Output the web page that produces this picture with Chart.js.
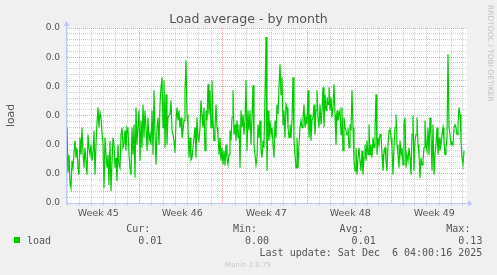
<!DOCTYPE html>
<html>
<head>
<meta charset="utf-8">
<title>Load average - by month</title>
<script src="https://cdn.jsdelivr.net/npm/chart.js@4.4.1/dist/chart.umd.min.js"></script>
<style>
  html, body { margin: 0; padding: 0; background: #f0f0f0; }
  canvas { display: block; }
</style>
</head>
<body>
<canvas id="loadChart" width="497" height="275"></canvas>
<script>
// load average, one sample every 2 hours, oldest first
var loadValues = [
  0.0150,0.0060,0.0096,0.0040,0.0030,0.0084,0.0070,0.0100,0.0124,0.0090,
  0.0110,0.0070,0.0056,0.0130,0.0096,0.0150,0.0100,0.0070,0.0110,0.0084,
  0.0056,0.0136,0.0110,0.0096,0.0116,0.0084,0.0100,0.0144,0.0056,0.0116,
  0.0160,0.0190,0.0150,0.0180,0.0170,0.0140,0.0116,0.0030,0.0130,0.0096,
  0.0070,0.0096,0.0036,0.0124,0.0024,0.0080,0.0130,0.0116,0.0070,0.0090,
  0.0044,0.0116,0.0076,0.0070,0.0136,0.0150,0.0110,0.0116,0.0144,0.0104,
  0.0150,0.0144,0.0096,
  0.0070,0.0056,0.0150,0.0096,0.0156,0.0050,0.0190,0.0116,0.0150,0.0184,
  0.0084,0.0164,0.0110,0.0196,0.0130,0.0184,0.0150,0.0104,0.0170,0.0124,
  0.0136,0.0116,0.0184,0.0096,0.0224,0.0136,0.0076,0.0150,0.0170,0.0116,
  0.0196,0.0230,0.0250,0.0150,0.0244,0.0110,0.0216,0.0116,0.0170,0.0174,
  0.0176,0.0204,0.0144,0.0136,0.0124,0.0100,0.0164,0.0190,0.0164,0.0184,
  0.0150,0.0170,0.0130,0.0144,0.0164,0.0224,0.0284,0.0176,0.0150,0.0090,
  0.0130,0.0086,0.0090,0.0110,0.0130,0.0150,
  0.0090,0.0170,0.0130,0.0124,0.0150,0.0204,0.0176,0.0150,0.0190,0.0104,
  0.0184,0.0164,0.0236,0.0176,0.0224,0.0150,0.0244,0.0164,0.0124,0.0150,
  0.0196,0.0150,0.0136,0.0096,0.0130,0.0084,0.0110,0.0076,0.0104,0.0074,
  0.0116,0.0090,0.0076,0.0096,0.0144,0.0124,0.0170,0.0224,0.0136,0.0156,
  0.0124,0.0164,0.0130,0.0156,0.0070,0.0184,0.0150,0.0176,0.0136,0.0164,
  0.0244,0.0104,0.0184,0.0144,0.0184,0.0116,0.0170,0.0234,0.0116,0.0096,
  0.0076,0.0090,0.0156,0.0130,0.0164,
  0.0104,0.0090,0.0124,0.0110,0.0216,0.0330,0.0064,0.0184,0.0124,0.0164,
  0.0136,0.0150,0.0116,0.0090,0.0164,0.0130,0.0196,0.0176,0.0230,0.0276,
  0.0216,0.0250,0.0156,0.0184,0.0130,0.0196,0.0190,0.0150,0.0130,0.0156,
  0.0130,0.0164,0.0250,0.0124,0.0096,0.0070,0.0130,0.0070,0.0116,0.0150,
  0.0164,0.0150,0.0170,0.0196,0.0150,0.0170,0.0156,0.0224,0.0130,0.0176,
  0.0124,0.0164,0.0170,0.0196,0.0136,0.0184,0.0224,0.0170,0.0150,0.0196,
  0.0156,0.0184,0.0230,0.0150,0.0216,0.0184,
  0.0210,0.0196,0.0230,0.0184,0.0210,0.0170,0.0190,0.0236,0.0176,0.0116,
  0.0184,0.0164,0.0176,0.0184,0.0136,0.0190,0.0104,0.0170,0.0150,0.0144,
  0.0136,0.0150,0.0110,0.0156,0.0144,0.0224,0.0150,0.0084,0.0064,0.0110,
  0.0056,0.0090,0.0110,0.0084,0.0064,0.0104,0.0056,0.0090,0.0116,0.0084,
  0.0124,0.0096,0.0156,0.0096,0.0116,0.0090,0.0130,0.0110,0.0150,0.0216,
  0.0096,0.0130,0.0116,0.0136,0.0136,0.0096,0.0064,0.0104,0.0110,0.0084,
  0.0064,0.0116,0.0144,0.0150,0.0130,0.0110,
  0.0056,0.0110,0.0150,0.0176,0.0116,0.0096,0.0070,0.0124,0.0096,0.0110,
  0.0076,0.0156,0.0170,0.0070,0.0096,0.0084,0.0110,0.0090,0.0056,0.0136,
  0.0174,0.0064,0.0124,0.0136,0.0170,0.0116,0.0096,0.0050,0.0090,0.0076,
  0.0084,0.0110,0.0164,0.0116,0.0104,0.0150,0.0096,0.0170,0.0136,0.0064,
  0.0156,0.0056,0.0096,0.0116,0.0150,0.0096,0.0130,0.0104,0.0116,0.0136,
  0.0150,0.0124,0.0096,0.0110,0.0130,0.0296,0.0150,0.0136,0.0116,0.0120,
  0.0116,0.0150,0.0156,0.0150,0.0136,0.0156,0.0190,0.0176,0.0124,0.0090,
  0.0076,0.0104
];
var sampleDays = 2 / 24;      // 2 hour steps
var rangeDays = 400 / 12;     // shown period, in days

var weekLabels = ['Week 45', 'Week 46', 'Week 47', 'Week 48', 'Week 49'];
var weekLabelDays = [2.6, 9.6, 16.6, 23.6, 30.6];
var weekStartDays = [6, 13, 20, 27];

var yMinorStep = 0.00116;
var yMajorEvery = 5;
var yMinorCount = 30;

var seriesName = 'load';
var legendHeaders = ['Cur:', 'Min:', 'Avg:', 'Max:'];
var legendValues = ['0.01', '0.00', '0.01', '0.13'];
var lastUpdate = 'Last update: Sat Dec  6 04:00:16 2025';

var GREEN = '#00cc00';
var MAJOR_GRID = 'rgba(245, 128, 128, 0.75)';
var MINOR_GRID = 'rgba(191, 191, 191, 0.75)';
var AXIS = '#c0c8f6';

var dayTicks = [];
for (var d = 0; d <= Math.floor(rangeDays); d++) {
    if (weekStartDays.indexOf(d) < 0) dayTicks.push(d);
}

var points = loadValues.map(function(v, i) {
    return { x: i * sampleDays, y: v };
});

/*
 * grey page with white plot area
 */
var backdrop = {
    id: 'backdrop',
    beforeDraw: function(chart) {
        var ctx = chart.ctx, a = chart.chartArea;
        ctx.save();
        ctx.fillStyle = '#f0f0f0';
        ctx.fillRect(0, 0, chart.width, chart.height);
        ctx.fillStyle = '#ffffff';
        ctx.fillRect(a.left, a.top, a.right - a.left, a.bottom - a.top);
        ctx.restore();
    }
};

/*
 * rrdtool style axes with arrows, legend table and footer
 */
var muninExtras = {
    id: 'muninExtras',
    afterDraw: function(chart) {
        var ctx = chart.ctx, a = chart.chartArea;
        ctx.save();

        // axes
        ctx.lineWidth = 1;
        ctx.strokeStyle = AXIS;
        ctx.fillStyle = AXIS;
        ctx.beginPath();
        ctx.moveTo(a.left - 0.5, a.bottom + 0.5);
        ctx.lineTo(a.right + 3, a.bottom + 0.5);
        ctx.moveTo(a.left - 0.5, a.bottom + 0.5);
        ctx.lineTo(a.left - 0.5, a.top - 4);
        ctx.stroke();
        ctx.beginPath();
        ctx.moveTo(a.right + 6, a.bottom + 0.5);
        ctx.lineTo(a.right + 1, a.bottom - 2.5);
        ctx.lineTo(a.right + 1, a.bottom + 3.5);
        ctx.closePath();
        ctx.fill();
        ctx.beginPath();
        ctx.moveTo(a.left - 0.5, a.top - 7);
        ctx.lineTo(a.left - 3.5, a.top - 2);
        ctx.lineTo(a.left + 2.5, a.top - 2);
        ctx.closePath();
        ctx.fill();

        // legend
        ctx.fillStyle = GREEN;
        ctx.fillRect(14, 237, 6, 6);
        ctx.font = '10px "DejaVu Sans Mono"';
        ctx.fillStyle = '#555555';
        ctx.textBaseline = 'alphabetic';
        ctx.textAlign = 'left';
        ctx.fillText(seriesName, 27, 243.5);
        ctx.textAlign = 'right';
        for (var i = 0; i < legendHeaders.length; i++) {
            var right = 162.3 + i * 106.7;
            ctx.fillText(legendHeaders[i], right - 12, 231.5);
            ctx.fillText(legendValues[i], right, 243.5);
        }
        ctx.fillText(lastUpdate, 482.3, 255.5);

        // footer
        ctx.font = '7px "DejaVu Sans"';
        ctx.fillStyle = '#c8c8c8';
        ctx.textAlign = 'center';
        ctx.fillText('Munin 2.0.75', 248, 266.5);

        // watermark
        ctx.font = '7.5px "DejaVu Sans"';
        ctx.fillStyle = '#c4c4c4';
        ctx.textAlign = 'left';
        ctx.textBaseline = 'middle';
        ctx.translate(489.5, 5);
        ctx.rotate(Math.PI / 2);
        ctx.fillText('RRDTOOL / TOBI OETIKER', 0, 0);

        ctx.restore();
    }
};

Chart.defaults.font.family = '"DejaVu Sans"';

var chart = new Chart(document.getElementById('loadChart').getContext('2d'), {
    type: 'line',
    data: {
        datasets: [{
            label: seriesName,
            data: points,
            borderColor: GREEN,
            borderWidth: 1.2,
            pointRadius: 0,
            tension: 0,
            fill: false
        }]
    },
    options: {
        responsive: false,
        animation: false,
        events: [],
        layout: { padding: 0 },
        plugins: {
            legend: { display: false },
            tooltip: { enabled: false },
            title: {
                display: true,
                text: 'Load average - by month',
                color: '#555555',
                font: { size: 12.6, weight: 'normal' },
                padding: { top: 12, bottom: 0.88 }
            }
        },
        scales: {
            // day grid (minor)
            x: {
                type: 'linear',
                position: 'bottom',
                min: 0,
                max: rangeDays,
                afterBuildTicks: function(scale) {
                    scale.ticks = dayTicks.map(function(d) { return { value: d }; });
                },
                afterFit: function(scale) { scale.height = 0; },
                ticks: { display: false, autoSkip: false },
                grid: { color: MINOR_GRID, tickLength: 2, tickColor: '#b8b8b8' },
                border: { display: false, dash: [1, 1] }
            },
            // week grid (major)
            weekGrid: {
                type: 'linear',
                position: 'bottom',
                min: 0,
                max: rangeDays,
                afterBuildTicks: function(scale) {
                    scale.ticks = weekStartDays.map(function(d) { return { value: d }; });
                },
                afterFit: function(scale) { scale.height = 0; },
                ticks: { display: false, autoSkip: false },
                grid: { color: MAJOR_GRID, drawTicks: false },
                border: { display: false, dash: [1, 1] }
            },
            weeks: {
                type: 'linear',
                position: 'bottom',
                min: 0,
                max: rangeDays,
                afterBuildTicks: function(scale) {
                    scale.ticks = weekLabelDays.map(function(d) { return { value: d }; });
                },
                afterFit: function(scale) { scale.height = 72; },
                ticks: {
                    autoSkip: false,
                    maxRotation: 0,
                    padding: 4.7,
                    color: '#555555',
                    font: { size: 9.5 },
                    callback: function(v, i) { return weekLabels[i]; }
                },
                grid: { display: false, drawTicks: false },
                border: { display: false }
            },
            y: {
                type: 'linear',
                position: 'left',
                min: 0,
                max: yMinorStep * yMinorCount,
                afterBuildTicks: function(scale) {
                    var t = [];
                    for (var k = 0; k <= yMinorCount; k++) t.push({ value: k * yMinorStep });
                    scale.ticks = t;
                },
                afterFit: function(scale) { scale.width = 67; },
                title: {
                    display: true,
                    text: 'load',
                    color: '#555555',
                    font: { size: 10.8 },
                    padding: { top: 4.8, bottom: 0 }
                },
                ticks: {
                    autoSkip: false,
                    padding: 7,
                    color: '#555555',
                    font: { size: 9 },
                    callback: function(v, i) {
                        return i % yMajorEvery === 0 ? v.toFixed(1) : '';
                    }
                },
                grid: {
                    drawTicks: false,
                    color: function(c) {
                        return c.index % yMajorEvery === 0 ? MAJOR_GRID : MINOR_GRID;
                    }
                },
                border: { display: false, dash: [1, 1] }
            },
            spacer: {
                type: 'linear',
                position: 'right',
                afterFit: function(scale) { scale.width = 30; },
                ticks: { display: false },
                grid: { display: false, drawTicks: false },
                border: { display: false }
            }
        }
    },
    plugins: [backdrop, muninExtras]
});
</script>
</body>
</html>
